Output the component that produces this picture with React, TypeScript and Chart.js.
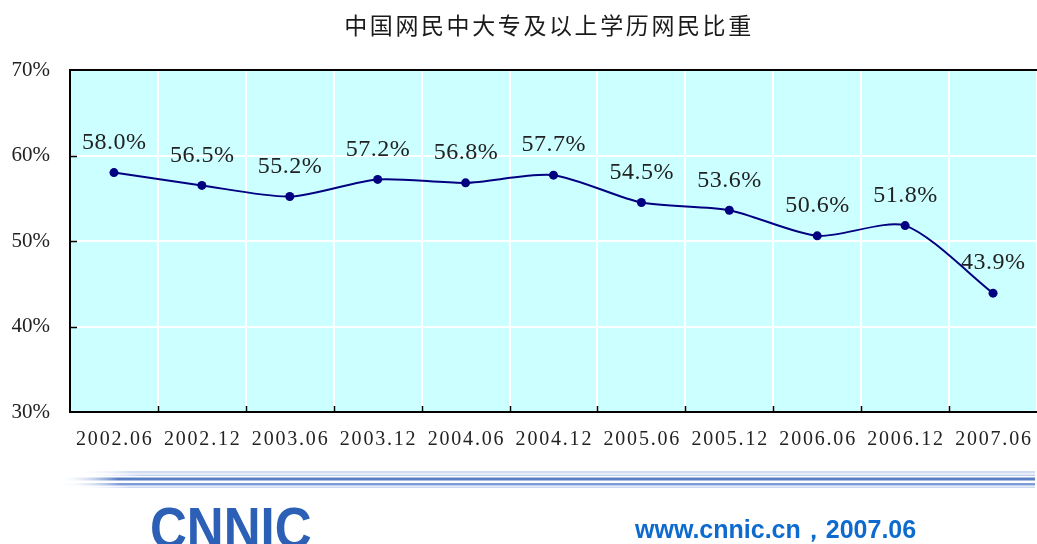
import React, { useEffect, useRef } from "react";
import { Chart, registerables } from "chart.js";

Chart.register(...registerables);

const categories = [
  "2002.06", "2002.12", "2003.06", "2003.12", "2004.06", "2004.12",
  "2005.06", "2005.12", "2006.06", "2006.12", "2007.06",
];
const shareValues = [58.0, 56.5, 55.2, 57.2, 56.8, 57.7, 54.5, 53.6, 50.6, 51.8, 43.9];
const yTicks = [30, 40, 50, 60, 70];
const titleText = "中国网民中大专及以上学历网民比重";
const footerText = "www.cnnic.cn，2007.06";
const logoText = "CNNIC";

const W = 1037;
const H = 544;

const decorPlugin = {
  id: "decor",
  beforeDraw(chart: any) {
    const { ctx, chartArea: a } = chart;
    ctx.save();
    ctx.fillStyle = "#ffffff";
    ctx.fillRect(0, 0, W, H);
    ctx.fillStyle = "#ccffff";
    ctx.fillRect(a.left, a.top, a.right - a.left, a.bottom - a.top);
    ctx.restore();
  },
  beforeDatasetsDraw(chart: any) {
    const { ctx, chartArea: a, scales } = chart;
    ctx.save();
    ctx.strokeStyle = "#000000";
    ctx.lineWidth = 2;
    ctx.beginPath();
    ctx.moveTo(a.left, a.top);
    ctx.lineTo(a.right, a.top);
    ctx.moveTo(a.left, a.top - 1);
    ctx.lineTo(a.left, a.bottom + 1);
    ctx.moveTo(a.left - 1, a.bottom);
    ctx.lineTo(a.right, a.bottom);
    ctx.stroke();
    ctx.lineWidth = 1.5;
    ctx.beginPath();
    const xs = scales.x;
    for (let i = 1; i < categories.length; i++) {
      const x = Math.round((xs.getPixelForTick(i - 1) + xs.getPixelForTick(i)) / 2) + 0.5;
      ctx.moveTo(x, a.bottom - 6);
      ctx.lineTo(x, a.bottom);
    }
    const ys = scales.y;
    yTicks.slice(1, -1).forEach((v) => {
      const y = Math.round(ys.getPixelForValue(v)) + 0.5;
      ctx.moveTo(a.left, y);
      ctx.lineTo(a.left + 7, y);
    });
    ctx.stroke();
    ctx.restore();
  },
  afterDraw(chart: any) {
    const { ctx, chartArea: a, scales } = chart;
    const xs = scales.x;
    const ys = scales.y;
    ctx.save();
    ctx.fillStyle = "#222222";
    ctx.font = '20px "Liberation Serif"';
    (ctx as any).letterSpacing = "1.8px";
    ctx.textAlign = "center";
    ctx.textBaseline = "middle";
    categories.forEach((c, i) => {
      ctx.fillText(c, xs.getPixelForTick(i) + 0.9, a.bottom + 28);
    });
    ctx.font = '24px "Liberation Serif"';
    (ctx as any).letterSpacing = "0.5px";
    shareValues.forEach((v, i) => {
      const x = xs.getPixelForValue(i);
      const y = ys.getPixelForValue(v);
      ctx.fillText(v.toFixed(1) + "%", x + 0.3, y - 30);
    });
    ctx.font = '23px "Noto Sans CJK SC"';
    (ctx as any).letterSpacing = "2.6px";
    ctx.fillStyle = "#1a1a1a";
    ctx.fillText(titleText, 549, 25);
    (ctx as any).letterSpacing = "0px";
    const bands = [
      { y: 471, h: 2.5, c: "#d3ddf2", x0: 72 },
      { y: 474.5, h: 1.5, c: "#c4d1ee", x0: 80 },
      { y: 477.5, h: 3, c: "#5a7ec6", x0: 58 },
      { y: 483, h: 2.5, c: "#7e9cd7", x0: 60 },
      { y: 486.5, h: 1.5, c: "#cdd9f1", x0: 70 },
    ];
    bands.forEach((b) => {
      const g = ctx.createLinearGradient(b.x0, 0, b.x0 + 60, 0);
      g.addColorStop(0, "rgba(255,255,255,0)");
      g.addColorStop(1, b.c);
      ctx.fillStyle = g;
      ctx.fillRect(b.x0, b.y, 1035 - b.x0, b.h);
    });
    ctx.textAlign = "left";
    ctx.textBaseline = "alphabetic";
    ctx.fillStyle = "#2c60b6";
    ctx.font = 'bold 58px "Liberation Sans"';
    ctx.save();
    ctx.translate(150, 548);
    ctx.scale(0.88, 1);
    ctx.fillText(logoText, 0, 0);
    ctx.restore();
    ctx.fillStyle = "#0d6bd0";
    ctx.font = 'bold 25px "Liberation Sans"';
    ctx.fillText(footerText, 635, 538);
    ctx.restore();
  },
};

export default function App() {
  const ref = useRef<HTMLCanvasElement | null>(null);
  useEffect(() => {
    if (!ref.current) return;
    const chart = new Chart(ref.current, {
      type: "line",
      data: {
        labels: categories,
        datasets: [
          {
            data: shareValues,
            borderColor: "#000080",
            borderWidth: 2,
            backgroundColor: "#000080",
            pointBackgroundColor: "#000080",
            pointBorderWidth: 0,
            pointRadius: 4.5,
            tension: 0.25,
            fill: false,
          },
        ],
      },
      options: {
        responsive: false,
        animation: false,
        devicePixelRatio: 1,
        layout: { autoPadding: false, padding: { top: 70, left: 0, right: 0, bottom: 82 } },
        plugins: {
          legend: { display: false },
          title: { display: false },
          tooltip: { enabled: false },
        },
        scales: {
          x: {
            type: "category",
            offset: true,
            grid: { color: "#ffffff", lineWidth: 2, offset: true, drawTicks: false },
            border: { display: false },
            ticks: { display: false },
            afterFit: (s: any) => {
              s.height = 50;
              s.paddingLeft = 0;
              s.paddingRight = 0;
            },
          },
          y: {
            min: 30,
            max: 70,
            grid: { color: "#ffffff", lineWidth: 2, drawTicks: false },
            border: { display: false },
            ticks: {
              stepSize: 10,
              padding: 20,
              color: "#222222",
              font: { family: "Liberation Serif", size: 21 },
              callback: (v: any) => v + "%",
            },
            afterFit: (s: any) => {
              s.width = 70;
            },
          },
        },
      },
      plugins: [decorPlugin],
    });
    return () => chart.destroy();
  }, []);
  return (
    <div style={{ position: "absolute", left: 0, top: 0, width: W, height: H }}>
      <canvas ref={ref} width={W} height={H} style={{ width: W, height: H, display: "block" }} />
    </div>
  );
}
